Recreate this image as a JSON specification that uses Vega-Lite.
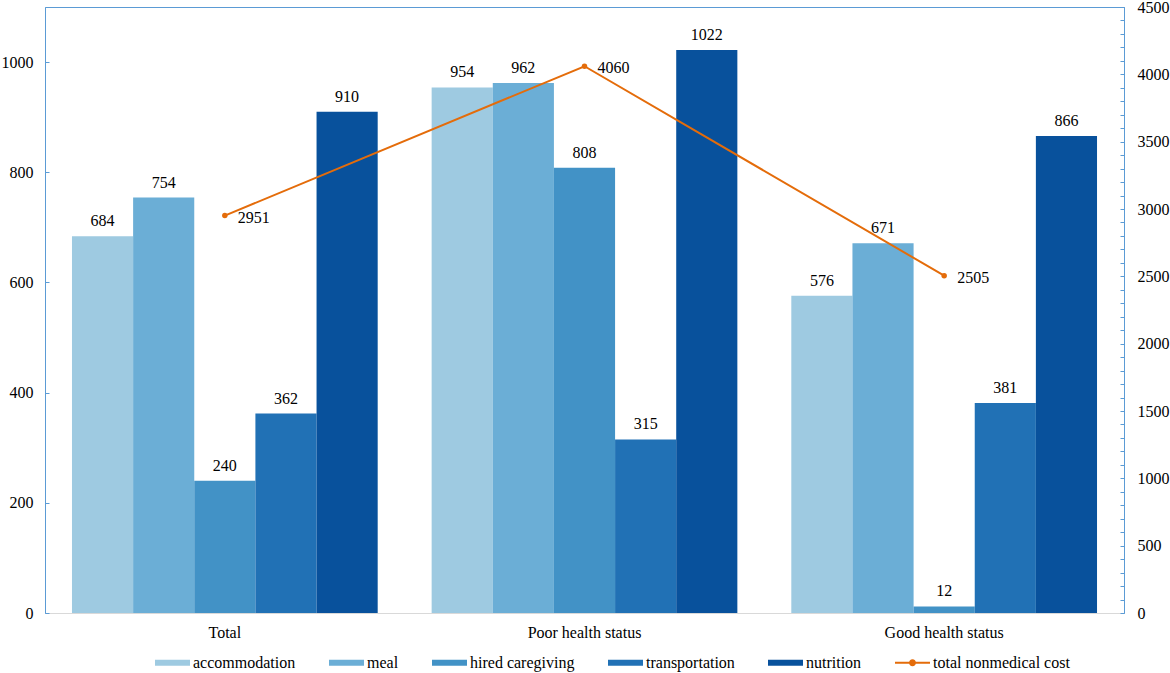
{
  "$schema": "https://vega.github.io/schema/vega-lite/v6.json",
  "width": 1079,
  "height": 606,
  "autosize": {"type": "none"},
  "padding": {"left": 45, "top": 7, "right": 46, "bottom": 60},
  "config": {
    "view": {"stroke": "#5b9bd5", "strokeWidth": 1},
    "font": "Liberation Serif",
    "axis": {"labelFont": "Liberation Serif", "labelFontSize": 16, "labelColor": "#000000", "title": null, "grid": false}
  },
  "datasets": {
    "bars": [
      {"group": "Total", "series": "accommodation", "value": 684},
      {"group": "Total", "series": "meal", "value": 754},
      {"group": "Total", "series": "hired caregiving", "value": 240},
      {"group": "Total", "series": "transportation", "value": 362},
      {"group": "Total", "series": "nutrition", "value": 910},
      {"group": "Poor health status", "series": "accommodation", "value": 954},
      {"group": "Poor health status", "series": "meal", "value": 962},
      {"group": "Poor health status", "series": "hired caregiving", "value": 808},
      {"group": "Poor health status", "series": "transportation", "value": 315},
      {"group": "Poor health status", "series": "nutrition", "value": 1022},
      {"group": "Good health status", "series": "accommodation", "value": 576},
      {"group": "Good health status", "series": "meal", "value": 671},
      {"group": "Good health status", "series": "hired caregiving", "value": 12},
      {"group": "Good health status", "series": "transportation", "value": 381},
      {"group": "Good health status", "series": "nutrition", "value": 866}
    ],
    "totals": [
      {"group": "Total", "total": 2951},
      {"group": "Poor health status", "total": 4060},
      {"group": "Good health status", "total": 2505}
    ]
  },
  "layer": [
    {
      "data": {"name": "bars"},
      "encoding": {
        "x": {"field": "group", "type": "nominal", "sort": ["Total", "Poor health status", "Good health status"],
              "scale": {"paddingInner": 0.15, "paddingOuter": 0.075},
              "axis": {"domainColor": "#d9d9d9", "ticks": false, "labelPadding": 11, "labelAngle": 0}},
        "xOffset": {"field": "series", "type": "nominal", "sort": ["accommodation", "meal", "hired caregiving", "transportation", "nutrition"],
                    "scale": {"paddingInner": 0, "paddingOuter": 0}},
        "y": {"field": "value", "type": "quantitative", "scale": {"domain": [0, 1100], "nice": false},
              "axis": {"values": [0, 200, 400, 600, 800, 1000], "format": "d", "domainColor": "#5b9bd5", "tickColor": "#5b9bd5", "tickSize": -4, "labelPadding": 16}}
      },
      "layer": [
        {
          "mark": {"type": "bar"},
          "encoding": {
            "color": {"field": "series", "type": "nominal",
                      "scale": {"domain": ["accommodation", "meal", "hired caregiving", "transportation", "nutrition", "total nonmedical cost"],
                                "range": ["#9ecae1", "#6baed6", "#4292c6", "#2171b5", "#08519c", "#e46c0a"]},
                      "legend": {
                        "orient": "none", "legendX": 110, "legendY": 638, "direction": "horizontal", "columns": 6,
                        "title": null, "padding": 0, "symbolSize": 1225, "symbolType": "M-1,-0.17H1V0.17H-1Z",
                        "symbolStrokeWidth": 0, "symbolOpacity": 1, "labelFont": "Liberation Serif", "labelFontSize": 16,
                        "labelColor": "#000000", "columnPadding": 33, "labelOffset": 3,
                        "encode": {"symbols": {"update": {
                          "shape": {"signal": "datum.value === 'total nonmedical cost' ? 'M-1,-0.06H1V0.06H-1Z M-0.2,0A0.2,0.2 0 1,1 0.2,0A0.2,0.2 0 1,1 -0.2,0Z' : 'M-1,-0.17H1V0.17H-1Z'"},
                          "opacity": {"value": 1}
                        }}}
                      }}
          }
        },
        {
          "mark": {"type": "text", "dy": -10, "baseline": "alphabetic", "fontSize": 16, "font": "Liberation Serif", "color": "#000000"},
          "encoding": {"text": {"field": "value", "type": "quantitative", "format": "d"}}
        }
      ]
    },
    {
      "data": {"name": "totals"},
      "encoding": {
        "x": {"field": "group", "type": "nominal", "sort": ["Total", "Poor health status", "Good health status"]},
        "y": {"field": "total", "type": "quantitative", "scale": {"domain": [0, 4500], "nice": false},
              "axis": {"orient": "right", "values": [0,100,200,300,400,500,600,700,800,900,1000,1100,1200,1300,1400,1500,1600,1700,1800,1900,2000,2100,2200,2300,2400,2500,2600,2700,2800,2900,3000,3100,3200,3300,3400,3500,3600,3700,3800,3900,4000,4100,4200,4300,4400,4500],
                       "labelExpr": "datum.value % 500 === 0 ? format(datum.value, 'd') : ''",
                       "domainColor": "#5b9bd5", "tickColor": "#5b9bd5", "tickSize": -4, "labelPadding": 17, "labelOverlap": false}}
      },
      "layer": [
        {"mark": {"type": "line", "color": "#e46c0a", "strokeWidth": 2}, "encoding": {}},
        {"mark": {"type": "point", "filled": true, "color": "#e46c0a", "size": 30, "opacity": 1}, "encoding": {}},
        {"mark": {"type": "text", "align": "left", "baseline": "middle", "dx": 13, "dy": 2, "fontSize": 16, "font": "Liberation Serif", "color": "#000000"},
         "encoding": {"text": {"field": "total", "type": "quantitative", "format": "d"}}}
      ]
    }
  ],
  "resolve": {"scale": {"y": "independent"}}
}
